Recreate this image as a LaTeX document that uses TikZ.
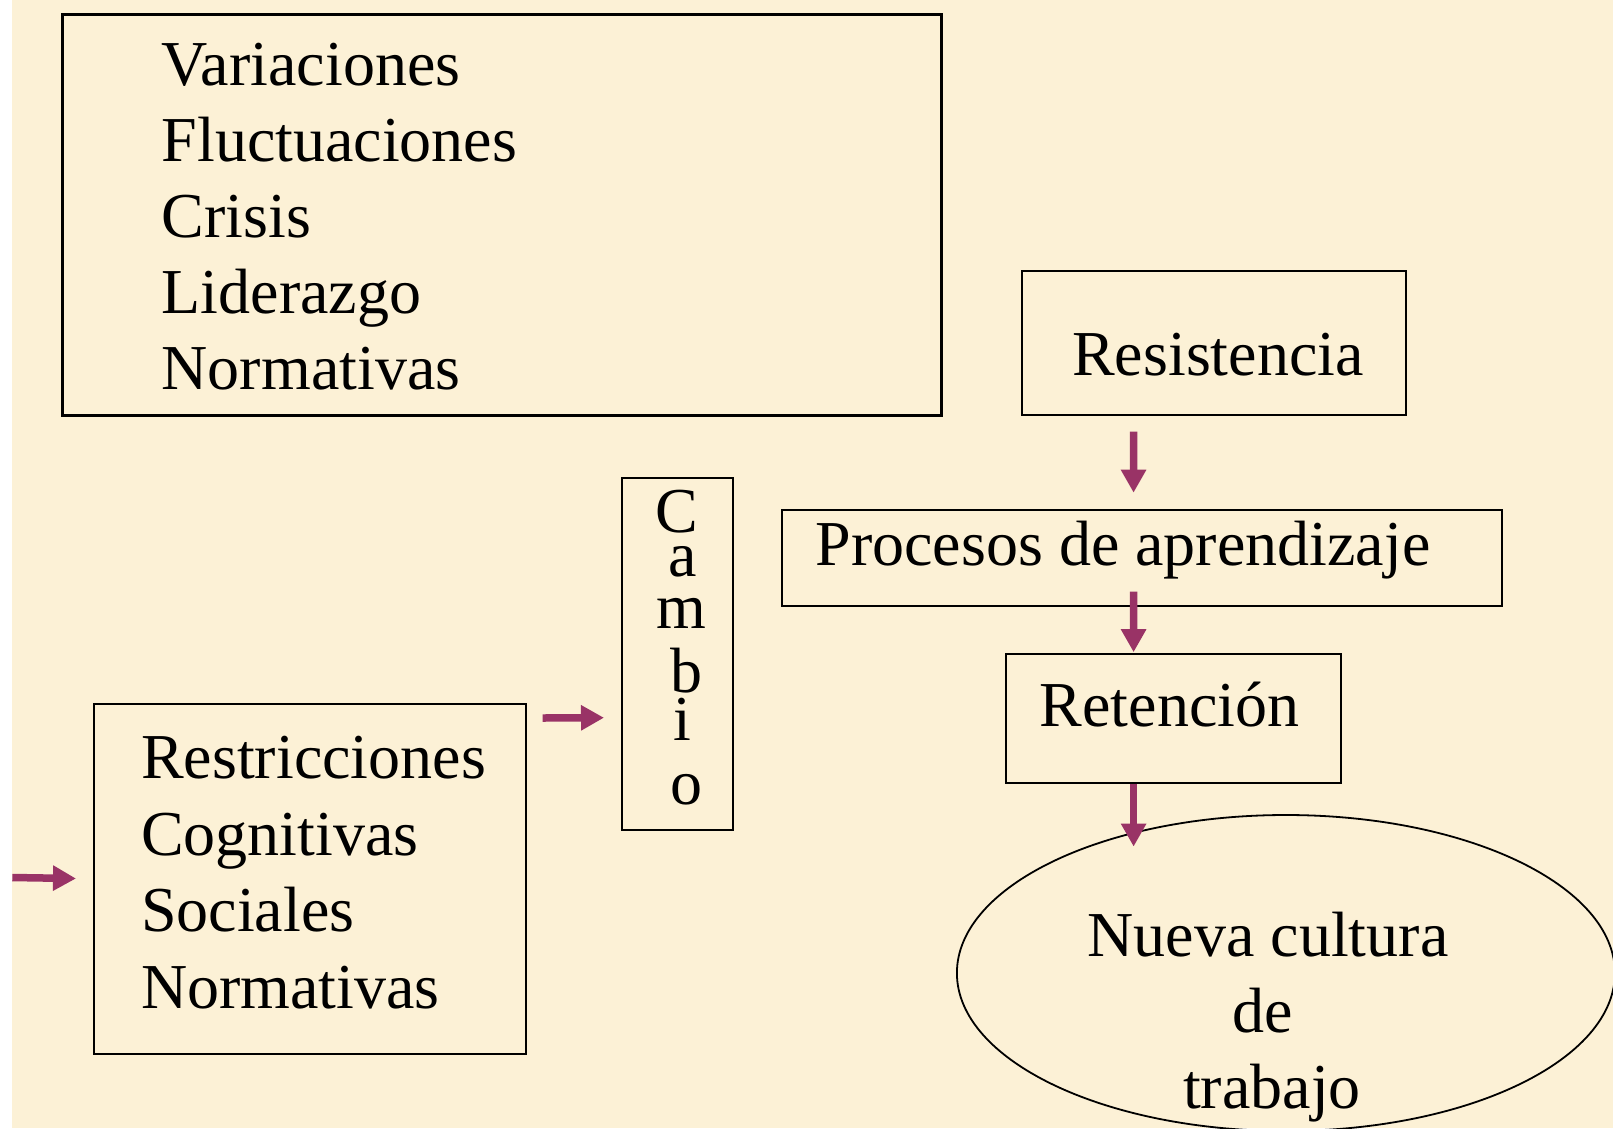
\documentclass[tikz,border=0pt]{standalone}
\usepackage{fontspec}
\setmainfont{Liberation Serif}
\usetikzlibrary{arrows.meta,shapes.geometric,calc}
\definecolor{paper}{RGB}{252,241,214}
\definecolor{arrowc}{RGB}{153,51,102}
\begin{document}
\begin{tikzpicture}[x=1pt,y=-1pt,
  box/.style={draw=black,line width=2pt,rectangle,inner sep=0pt,anchor=north west},
  txt/.style={inner sep=0pt,font=\fontsize{64}{76.8}\selectfont},
  ltr/.style={inner sep=0pt,anchor=base,font=\fontsize{64}{76.8}\selectfont},
  arr/.style={draw=arrowc,line width=7.5pt,-{Triangle[width=24pt,length=23pt]}}]
\useasboundingbox (0,0) rectangle (1613,1128);
\clip (0,0) rectangle (1613,1128);
\fill[white] (0,0) rectangle (12.3,1128);
\fill[paper] (12.3,0) rectangle (1613,1128);
% top box
\node[box,line width=3pt,minimum width=879.5pt,minimum height=400.5pt] (top) at (60.7,13.2) {};
\node[txt,anchor=base west] (t1) at (161.5,85.5) {Variaciones};
\node[txt,anchor=base west] (t2) at (161.5,161.5) {Fluctuaciones};
\node[txt,anchor=base west] (t3) at (161.5,237.5) {Crisis};
\node[txt,anchor=base west] (t4) at (161.5,313.5) {Liderazgo};
\node[txt,anchor=base west] (t5) at (161.5,389.5) {Normativas};
% Resistencia
\node[box,minimum width=384.7pt,minimum height=144pt] (res) at (1020.5,269.5) {};
\node[txt,anchor=base] (rest) at (1218,375.5) {Resistencia};
% Procesos
\node[box,minimum width=720.1pt,minimum height=95.7pt] (proc) at (780.8,509.2) {};
\node[txt,anchor=base] (proct) at (1123,565.8) {Procesos de aprendizaje};
% Retencion
\node[box,minimum width=335.4pt,minimum height=128.6pt] (ret) at (1005,653.2) {};
\node[txt,anchor=base] (rett) at (1169.5,726.3) {Retención};
% Ellipse
\node[draw=black,line width=1.8pt,ellipse,inner sep=0pt,minimum width=658pt,minimum height=316pt] (elli) at (1285.9,973) {};
\node[txt,anchor=base] (e1) at (1268,956.7) {Nueva cultura};
\node[txt,anchor=base] (e2) at (1263,1032) {de};
\node[txt,anchor=base] (e3) at (1272,1108) {trabajo};
% Cambio
\node[box,minimum width=111.1pt,minimum height=351.8pt] (cam) at (621.3,477.3) {};
\node[ltr] (c1) at (676.9,532.5) {C};
\node[ltr] (c2) at (683,576) {a};
\node[ltr] (c3) at (681,628) {m};
\node[ltr] (c4) at (686,692.5) {b};
\node[ltr] (c5) at (682,740) {i};
\node[ltr] (c6) at (686,804) {o};
% Restricciones
\node[box,minimum width=432pt,minimum height=350.8pt] (rst) at (92.6,702.6) {};
\node[txt,anchor=base west] (r1) at (141,778.5) {Restricciones};
\node[txt,anchor=base west] (r2) at (141,855) {Cognitivas};
\node[txt,anchor=base west] (r3) at (141,931.5) {Sociales};
\node[txt,anchor=base west] (r4) at (141,1008) {Normativas};
% arrows
\coordinate (lstart) at (12.3,877.5);
\draw[arr] (lstart) -- ([xshift=-16.6pt,yshift=0.5pt]rst.west);
\draw[arr] ([xshift=16pt,yshift=161pt]rst.east) -- ([xshift=-17.3pt,yshift=-63.5pt]cam.west);
\draw[arr] ([xshift=-80.3pt,yshift=-16pt]res.south) -- ([xshift=-8.3pt,yshift=16.5pt]proc.north);
\draw[arr] ([xshift=-8.3pt,yshift=15.4pt]proc.south) -- ([xshift=-40.1pt,yshift=1pt]ret.north);
\draw[arr] ([xshift=-40.1pt]ret.south) -- ([xshift=-40.1pt,yshift=-62.8pt]ret.south);
\end{tikzpicture}
\end{document}
